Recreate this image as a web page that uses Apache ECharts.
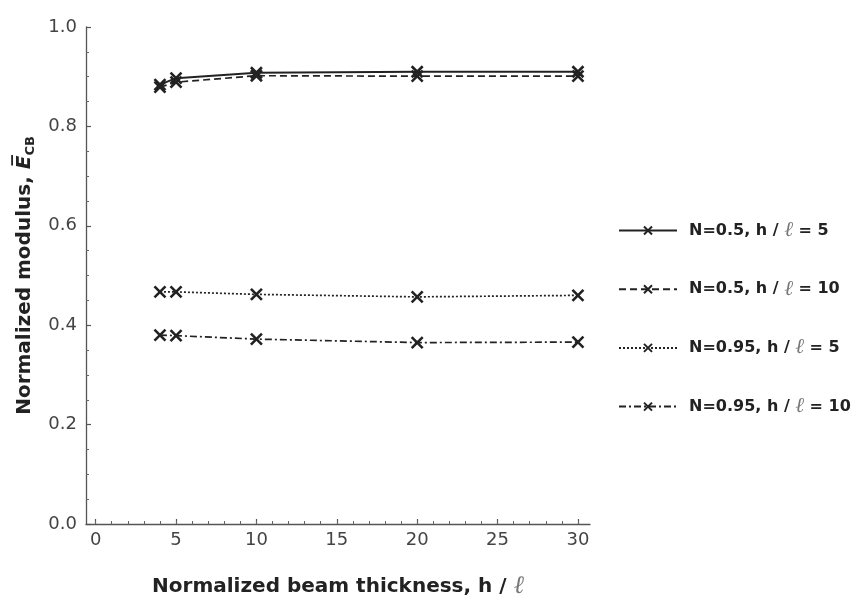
<!DOCTYPE html>
<html>
<head>
<meta charset="utf-8">
<script src="https://cdn.jsdelivr.net/npm/echarts@6/dist/echarts.min.js"></script>
<style>html,body{margin:0;padding:0;background:#fff;}#c{width:856px;height:604px;}</style>
</head>
<body>
<div id="c"></div>
<script>
var thickness = [4, 5, 10, 20, 30];
var seriesNames = ['N=0.5, h / {l|ℓ} = 5', 'N=0.5, h / {l|ℓ} = 10', 'N=0.95, h / {l|ℓ} = 5', 'N=0.95, h / {l|ℓ} = 10'];
var n05_h5 = [0.884, 0.897, 0.908, 0.910, 0.910];
var n05_h10 = [0.879, 0.889, 0.902, 0.901, 0.901];
var n095_h5 = [0.467, 0.467, 0.462, 0.457, 0.460];
var n095_h10 = [0.380, 0.379, 0.372, 0.365, 0.366];
var xMajorTicks = [0, 5, 10, 15, 20, 25, 30];
var xMinorTicks = [];
for (var i = 0; i <= 30; i++) xMinorTicks.push(i);

var font = 'DejaVu Sans';
var ink = '#222';
var crossSymbol = 'path://M0,0L10,10M10,0L0,10';

function pairs(ys) { return thickness.map(function (x, i) { return [x, ys[i]]; }); }
function mk(name, ys, dash) {
  return {
    name: name, type: 'line', data: pairs(ys), xAxisIndex: 0, yAxisIndex: 0,
    symbol: crossSymbol, symbolSize: 11, showSymbol: true,
    itemStyle: { color: 'none', borderColor: ink, borderWidth: 2.6 },
    lineStyle: { color: ink, width: dash === 'solid' ? 2 : 1.7, type: dash },
    z: 3
  };
}

var chart = echarts.init(document.getElementById('c'), null, { renderer: 'canvas' });
chart.setOption({
  animation: false,
  backgroundColor: '#fff',
  grid: { left: 86, right: 266, top: 27, bottom: 72.5 },
  legend: {
    orient: 'vertical', left: 613, top: 215,
    itemWidth: 58, itemHeight: 10, itemGap: 37.7,
    data: seriesNames,
    formatter: function (n) { return n; },
    textStyle: {
      fontFamily: font, fontWeight: 'bold', fontSize: 16, color: '#222', lineHeight: 18,
      padding: [0, 0, 0, 7],
      rich: { l: { fontFamily: 'DejaVu Serif', fontStyle: 'italic', fontWeight: 'normal', fontSize: 21, color: '#777', lineHeight: 18 } }
    }
  },
  xAxis: [{
    type: 'value', min: -0.6, max: 30.75,
    name: 'Normalized beam thickness, h / {l|ℓ}', nameLocation: 'middle', nameGap: 50,
    nameTextStyle: {
      fontFamily: font, fontWeight: 'bold', fontSize: 20, color: '#222',
      rich: { l: { fontFamily: 'DejaVu Serif', fontStyle: 'italic', fontWeight: 'normal', fontSize: 25, color: '#777' } }
    },
    axisLine: { show: true, onZero: false, lineStyle: { color: '#555', width: 1.3 } },
    axisTick: { show: true, inside: true, length: 5, customValues: xMajorTicks, lineStyle: { color: '#555', width: 1.2 } },
    axisLabel: { show: true, customValues: xMajorTicks, margin: 7, fontFamily: font, fontSize: 18, color: '#444' },
    splitLine: { show: false }
  }, {
    type: 'value', min: -0.6, max: 30.75, position: 'bottom',
    axisLine: { show: false },
    axisTick: { show: true, inside: true, length: 3, customValues: xMinorTicks, lineStyle: { color: '#666', width: 1 } },
    axisLabel: { show: false },
    splitLine: { show: false }
  }],
  yAxis: [{
    type: 'value', min: 0, max: 1, interval: 0.2,
    name: '{n|Normalized modulus, }{e|E\u0305}{s|CB}', nameLocation: 'middle', nameGap: 48, nameRotate: 90,
    nameTextStyle: {
      fontFamily: font, fontWeight: 'bold', fontSize: 20, color: '#222',
      rich: {
        n: { fontFamily: font, fontWeight: 'bold', fontSize: 20, color: '#222', lineHeight: 26, verticalAlign: 'middle' },
        e: { fontFamily: font, fontWeight: 'bold', fontStyle: 'italic', fontSize: 20, color: '#222', lineHeight: 26, verticalAlign: 'middle' },
        s: { fontFamily: font, fontWeight: 'bold', fontSize: 13, color: '#222', lineHeight: 12, verticalAlign: 'bottom' }
      }
    },
    axisLine: { show: true, onZero: false, lineStyle: { color: '#555', width: 1.3 } },
    axisTick: { show: true, inside: true, length: 5, lineStyle: { color: '#555', width: 1.2 } },
    minorTick: { show: true, splitNumber: 4, length: 3, lineStyle: { color: '#666', width: 1 } },
    axisLabel: { show: true, margin: 9, fontFamily: font, fontSize: 18, color: '#444', formatter: function (v) { return v.toFixed(1); } },
    splitLine: { show: false }, minorSplitLine: { show: false }
  }],
  series: [
    mk(seriesNames[0], n05_h5, 'solid'),
    mk(seriesNames[1], n05_h10, [7, 4]),
    mk(seriesNames[2], n095_h5, [2, 2]),
    mk(seriesNames[3], n095_h10, [7, 3, 2, 3])
  ]
});
</script>
</body>
</html>
